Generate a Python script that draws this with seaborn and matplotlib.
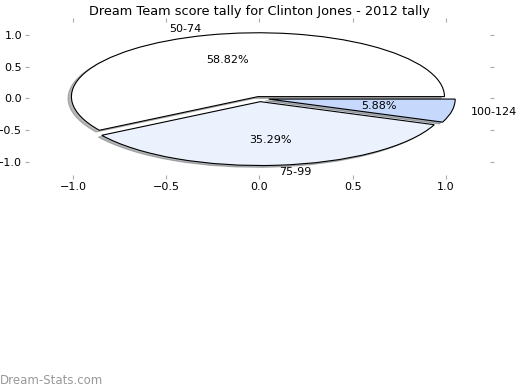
import numpy as np
import matplotlib
matplotlib.use('Agg')
import matplotlib.pyplot as plt
import seaborn as sns

sns.set_style('white')
plt.rcParams['font.family'] = ['DejaVu Sans']
plt.rcParams['text.color'] = 'black'
plt.rcParams['xtick.color'] = 'black'
plt.rcParams['ytick.color'] = 'black'

# score buckets and how many games fell in each
labels = ['50-74', '75-99', '100-124']
counts = [10, 6, 1]
colors = ['#FFFFFF', '#EBF1FD', '#C6D9FD']
explode = [0.03, 0.05, 0.05]

fig = plt.figure(figsize=(5.2, 3.9), dpi=100)
ax = fig.add_axes([0.056, 0.551, 0.886, 0.393])

ax.pie(counts, labels=labels, colors=colors, explode=explode,
       shadow={'ox': -0.013, 'oy': -0.02, 'shade': 0.55},
       autopct='%.2f%%', startangle=0, frame=True,
       wedgeprops=dict(edgecolor='black', linewidth=0.8),
       textprops=dict(fontsize=8, color='black'))
ax.set_aspect('auto')
ax.set_xlim(-1.235, 1.235)
ax.set_ylim(-1.2, 1.2)
ax.set_xticks([-1.0, -0.5, 0.0, 0.5, 1.0])
ax.set_yticks([-1.0, -0.5, 0.0, 0.5, 1.0])
for s in ax.spines.values():
    s.set_visible(False)
ax.tick_params(axis='both', which='both', direction='out', length=3, color='#AAAAAA',
               labelcolor='black', labelsize=8, pad=2,
               top=True, right=True, bottom=True, left=True,
               labeltop=False, labelright=False)
ax.set_title('Dream Team score tally for Clinton Jones - 2012 tally', fontsize=9.3, pad=5)

fig.text(0.0, 0.015, 'Dream-Stats.com', color='#999999', fontsize=8.5)
fig.savefig('out.png', dpi=100)
